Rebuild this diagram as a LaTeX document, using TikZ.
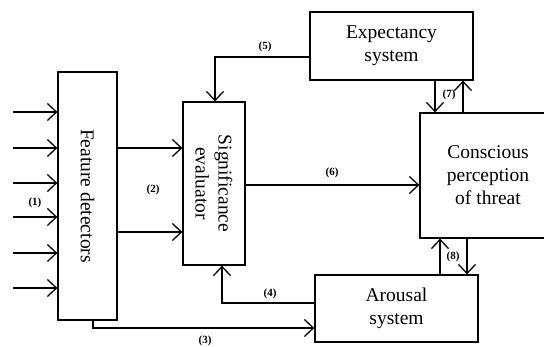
\documentclass[tikz,border=0pt]{standalone}
\usepackage{fontspec}
\setmainfont{Liberation Serif}
\usetikzlibrary{arrows.meta}
\begin{document}
\begin{tikzpicture}[x=1pt,y=1pt]
\tikzstyle{every node}+=[inner sep=0pt]
\tikzstyle{box}=[draw,line width=1.3pt,rectangle]
\tikzstyle{boxtext}=[align=center,font=\fontsize{19.5}{23}\selectfont]
\tikzstyle{num}=[font=\fontsize{11}{12}\selectfont\bfseries]
\tikzstyle{arr}=[line width=1.3pt,-{Straight Barb[length=9pt,width=17pt,line width=1.3pt]}]
\useasboundingbox (0,0) rectangle (544,-346);
% boxes
\node [box,minimum width=59pt,minimum height=248pt] (fd) at (87.5,-196) {};
\node [boxtext,rotate=-90] (fdtext) at (fd.center) {Feature detectors};
\node [box,minimum width=62pt,minimum height=163pt] (se) at (214,-183.5) {};
\node [boxtext,rotate=-90] (setext) at (se.center) {Significance\\evaluator};
\node [box,boxtext,minimum width=163pt,minimum height=68pt] (ex) at (391.5,-46) {Expectancy\\system};
\node [box,boxtext,minimum width=136pt,minimum height=125pt] (cp) at (488,-175.5) {Conscious\\perception\\of threat};
\node [box,boxtext,minimum width=163pt,minimum height=67pt] (ar) at (396.5,-308.5) {Arousal\\system};
% inputs (1)
\foreach \y [count=\i] in {112,148,183,217,253,288}
{
\coordinate (in\i) at (13,-\y);
\draw [arr] (in\i) -- (in\i -| fd.west);
}
\node [num] (l1) at (35,-203) {(1)};
% (2)
\draw [arr] (fd.east |- 0,-148) -- (se.west |- 0,-148);
\draw [arr] (fd.east |- 0,-232) -- (se.west |- 0,-232);
\node [num] (l2) at (153,-190) {(2)};
% (3)
\draw [arr] (fd.south -| 93,0) |- (ar.west |- 0,-328);
\node [num] (l3) at (205,-341) {(3)};
% (4)
\draw [arr] (ar.west |- 0,-303) -| (se.south -| 222,0);
\node [num] (l4) at (270,-294) {(4)};
% (5)
\draw [arr] (ex.west |- 0,-57) -| (se.north -| 215,0);
\node [num] (l5) at (265,-47) {(5)};
% (6)
\draw [arr] (se.east |- 0,-185) -- (cp.west |- 0,-185);
\node [num] (l6) at (332,-173) {(6)};
% (7)
\draw [arr] (ex.south -| 435,0) -- (cp.north -| 435,0);
\draw [arr] (cp.north -| 463,0) -- (ex.south -| 463,0);
\node [num] (l7) at (449,-95) {(7)};
% (8)
\draw [arr] (ar.north -| 440,0) -- (cp.south -| 440,0);
\draw [arr] (cp.south -| 467,0) -- (ar.north -| 467,0);
\node [num] (l8) at (453,-257) {(8)};
\end{tikzpicture}
\end{document}
